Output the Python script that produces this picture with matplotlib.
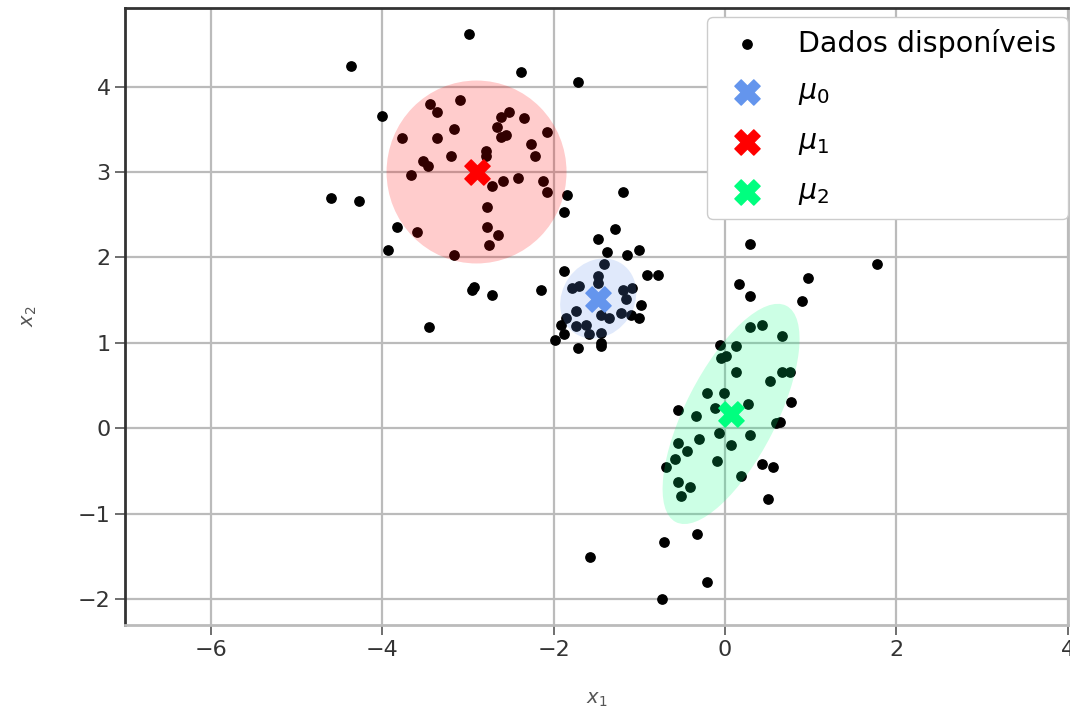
import matplotlib
matplotlib.use("Agg")
import matplotlib.pyplot as plt
from matplotlib.patches import Ellipse

# Data points (x1, x2)
x1 = [-2.99, -4.36, -2.38, -1.72, -4.00, -3.44, -3.36, -3.09, -2.52, -2.62,
      -2.66, -2.62, -2.56, -2.35, -2.08, -3.77, -3.36, -3.16, -2.26, -2.22,
      -2.79, -2.79, -3.20, -3.53, -3.47, -3.66, -2.72, -2.59, -2.42, -2.12,
      -2.08, -1.85, -1.88, -4.60, -4.27, -2.78, -2.78, -2.65, -2.76, -3.83,
      -3.59, -3.93, -3.16, -1.29, -1.48, -1.38, -2.95, -2.93, -2.72, -3.45,
      -2.15, -1.19,
      -1.15, -1.01, -1.88, -0.91, -0.78, -1.41, -1.48, -1.48, -1.71, -1.79,
      -1.19, -1.09, -1.16, -0.98, -1.74, -1.86, -1.91, -1.45, -1.36, -1.22,
      -1.10, -1.01, -1.74, -1.62, -1.59, -1.88, -1.98, -1.45, -1.45, -1.45,
      -1.72,
      0.29, 1.77, 0.97, 0.16, 0.29, 0.90, 0.29, 0.43, 0.66, -0.06,
      0.13, 0.01, -0.05, 0.13, 0.67, 0.76, 0.52, -0.21, -0.01, 0.27,
      0.77, -0.55, -0.34, -0.12, 0.59, 0.64, -0.07, -0.31, 0.29, 0.07,
      -0.55, -0.44, -0.58, -0.69, -0.10, 0.43, 0.56, 0.19, -0.55, -0.41,
      -0.51, 0.50, -0.33, -0.71, -1.58, -0.21, -0.74]
x2 = [4.62, 4.24, 4.17, 4.05, 3.65, 3.79, 3.70, 3.84, 3.70, 3.64,
      3.53, 3.41, 3.43, 3.63, 3.47, 3.40, 3.40, 3.50, 3.33, 3.19,
      3.24, 3.19, 3.19, 3.13, 3.07, 2.97, 2.84, 2.90, 2.93, 2.90,
      2.77, 2.73, 2.53, 2.70, 2.66, 2.59, 2.36, 2.26, 2.15, 2.36,
      2.30, 2.09, 2.03, 2.33, 2.22, 2.07, 1.62, 1.65, 1.56, 1.19,
      1.62, 2.77,
      2.03, 2.09, 1.84, 1.79, 1.79, 1.92, 1.78, 1.70, 1.67, 1.64,
      1.62, 1.64, 1.52, 1.45, 1.37, 1.29, 1.21, 1.33, 1.29, 1.35,
      1.33, 1.29, 1.20, 1.21, 1.10, 1.10, 1.04, 1.12, 1.00, 0.97,
      0.94,
      2.16, 1.92, 1.76, 1.69, 1.55, 1.49, 1.19, 1.21, 1.08, 0.98,
      0.97, 0.85, 0.83, 0.66, 0.66, 0.66, 0.55, 0.42, 0.42, 0.29,
      0.31, 0.22, 0.15, 0.24, 0.06, 0.07, -0.05, -0.12, -0.08, -0.19,
      -0.17, -0.26, -0.36, -0.45, -0.38, -0.42, -0.45, -0.56, -0.63, -0.69,
      -0.79, -0.83, -1.23, -1.33, -1.50, -1.80, -2.00]

# Cluster centres
mu_x = [-1.48, -2.90, 0.07]
mu_y = [1.52, 3.00, 0.17]
mu_labels = [r"$\mu_0$", r"$\mu_1$", r"$\mu_2$"]
mu_colors = ["cornflowerblue", "red", "springgreen"]

# Covariance ellipses (full width, full height, angle in degrees)
ell_w = [0.98, 2.10, 2.84]
ell_h = [0.84, 2.14, 1.06]
ell_ang = [55, 0, 63]

fig = plt.figure(figsize=(10.7, 7.16), dpi=100)
ax = fig.add_axes([0.117, 0.127, 0.881, 0.862])

ax.scatter(x1, x2, s=45, color="black", label="Dados disponíveis", zorder=3)

for i in range(3):
    e = Ellipse((mu_x[i], mu_y[i]), ell_w[i], ell_h[i], angle=ell_ang[i],
                facecolor=mu_colors[i], edgecolor="none", alpha=0.2, zorder=4)
    ax.add_patch(e)

for i in range(3):
    ax.scatter([mu_x[i]], [mu_y[i]], marker="X", s=330, color=mu_colors[i],
               label=mu_labels[i], zorder=5)

ax.set_xlim(-7, 4)
ax.set_ylim(-2.3, 4.92)
ax.set_xticks([-6, -4, -2, 0, 2, 4])
ax.set_yticks([-2, -1, 0, 1, 2, 3, 4])
ax.grid(True, color="#bbbbbb", linewidth=1.6, zorder=0)
ax.set_axisbelow(True)

ax.tick_params(axis="both", labelsize=16, length=7, width=1.2,
               labelcolor="#333333", color="#555555")
ax.set_xlabel(r"$x_1$", fontsize=14, color="#555555", labelpad=22)
ax.set_ylabel(r"$x_2$", fontsize=14, color="#555555", labelpad=28)

ax.spines["top"].set_color("#333333")
ax.spines["left"].set_color("#333333")
ax.spines["right"].set_color("#bbbbbb")
ax.spines["bottom"].set_color("#bbbbbb")
for sp in ax.spines.values():
    sp.set_linewidth(2)

leg = ax.legend(loc="upper right", bbox_to_anchor=(1.0, 0.985),
                borderaxespad=0.0, fontsize=20.5, framealpha=1.0,
                edgecolor="#cccccc", fancybox=True, labelspacing=0.7)

fig.savefig("out.png", dpi=100)
